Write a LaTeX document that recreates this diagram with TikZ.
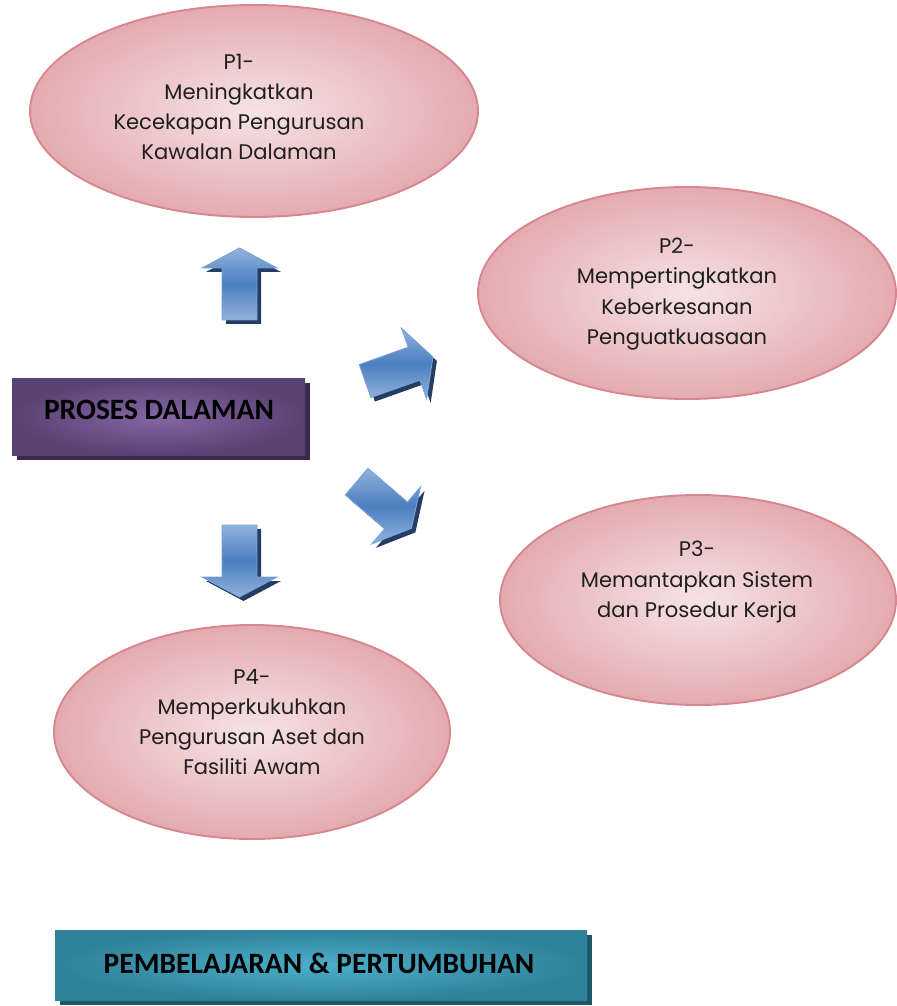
\documentclass[tikz,border=0pt]{standalone}
\usepackage{fontspec}
\usetikzlibrary{shapes.geometric,shadows}
\newfontfamily\boxfont{Carlito}
\newfontfamily\gothic{Poppins}

\definecolor{pinkedge}{HTML}{E4ABB0}
\definecolor{pinkmid}{HTML}{F6E3E4}
\definecolor{pinkline}{HTML}{D6878F}
\definecolor{purpedge}{HTML}{5A4272}
\definecolor{purpmid}{HTML}{8466A6}
\definecolor{purpshadow}{HTML}{3C2A4E}
\definecolor{tealedge}{HTML}{30829A}
\definecolor{tealmid}{HTML}{4CAFCA}
\definecolor{tealshadow}{HTML}{1F5666}
\definecolor{arrowblue}{HTML}{4A7EC0}
\definecolor{arrowlight}{HTML}{93B2DC}
\definecolor{arrowline}{HTML}{79A1D6}
\definecolor{arrowshadow}{HTML}{233E62}

\tikzset{
  goal/.style={ellipse, draw=pinkline, line width=1.1pt, shading=radial,
    inner color=pinkmid, outer color=pinkedge},
  goaltext/.style={align=center, inner sep=0pt,
    font=\gothic\fontsize{12}{17.2}\selectfont, text=black!88},
  header/.style={rectangle, inner sep=0pt, shading=radial},
  headertext/.style={inner sep=0pt, font=\boxfont\bfseries\fontsize{16.8}{20}\selectfont},
  arrowbody/.style={draw=arrowline, line width=0.5pt, shading=axis,
    top color=arrowlight, bottom color=arrowlight, middle color=arrowblue},
}

% block arrow: centre x, centre y, angle
\newcommand{\blockarrow}[3]{
  \begin{scope}[shift={(#1+4,#2+4)}, rotate=#3]
    \fill[arrowshadow] (-36,-17.5) -- (16,-17.5) -- (16,-37.5) -- (36,0)
      -- (16,37.5) -- (16,17.5) -- (-36,17.5) -- cycle;
  \end{scope}
  \begin{scope}[shift={(#1,#2)}, rotate=#3]
    \path[arrowbody] (-36,-17.5) -- (16,-17.5) -- (16,-37.5) -- (36,0)
      -- (16,37.5) -- (16,17.5) -- (-36,17.5) -- cycle;
  \end{scope}
}

\begin{document}
\begin{tikzpicture}[x=0.02cm, y=-0.02cm]
\useasboundingbox (0,0) rectangle (896,1006);

% goals
\node[goal, minimum width=448*0.02cm, minimum height=212*0.02cm] (p1) at (254,111) {};
\node[goal, minimum width=418*0.02cm, minimum height=212*0.02cm] (p2) at (687,293) {};
\node[goal, minimum width=396*0.02cm, minimum height=210*0.02cm] (p3) at (698,600) {};
\node[goal, minimum width=396*0.02cm, minimum height=214*0.02cm] (p4) at (252,732) {};

\node[goaltext] (p1text) at (239,107)
  {P1-\\Meningkatkan\\Kecekapan Pengurusan\\Kawalan Dalaman};
\node[goaltext] (p2text) at (677,294)
  {P2-\\Mempertingkatkan\\Keberkesanan\\Penguatkuasaan};
\node[goaltext] (p3text) at (697,582)
  {P3-\\Memantapkan Sistem\\dan Prosedur Kerja};
\node[goaltext] (p4text) at (252,722)
  {P4-\\Memperkukuhkan\\Pengurusan Aset dan\\Fasiliti Awam};

% perspective boxes
\node[header, inner color=purpmid, outer color=purpedge,
  minimum width=293*0.02cm, minimum height=77*0.02cm,
  general shadow={fill=purpshadow, shadow xshift=2.6pt, shadow yshift=-2.6pt}]
  (proses) at (158.5,416.5) {};
\node[headertext] (prosestext) at (159,410) {PROSES DALAMAN};
\node[header, inner color=tealmid, outer color=tealedge,
  minimum width=532*0.02cm, minimum height=70*0.02cm,
  general shadow={fill=tealshadow, shadow xshift=2.6pt, shadow yshift=-2.6pt}]
  (pembelajaran) at (321,965) {};
\node[headertext] (pembelajarantext) at (319,963) {PEMBELAJARAN \& PERTUMBUHAN};

% arrows
\blockarrow{239.5}{284}{90}
\blockarrow{399}{369}{19.6}
\blockarrow{384}{505}{-40.5}
\blockarrow{239.5}{561}{-90}

\end{tikzpicture}
\end{document}
